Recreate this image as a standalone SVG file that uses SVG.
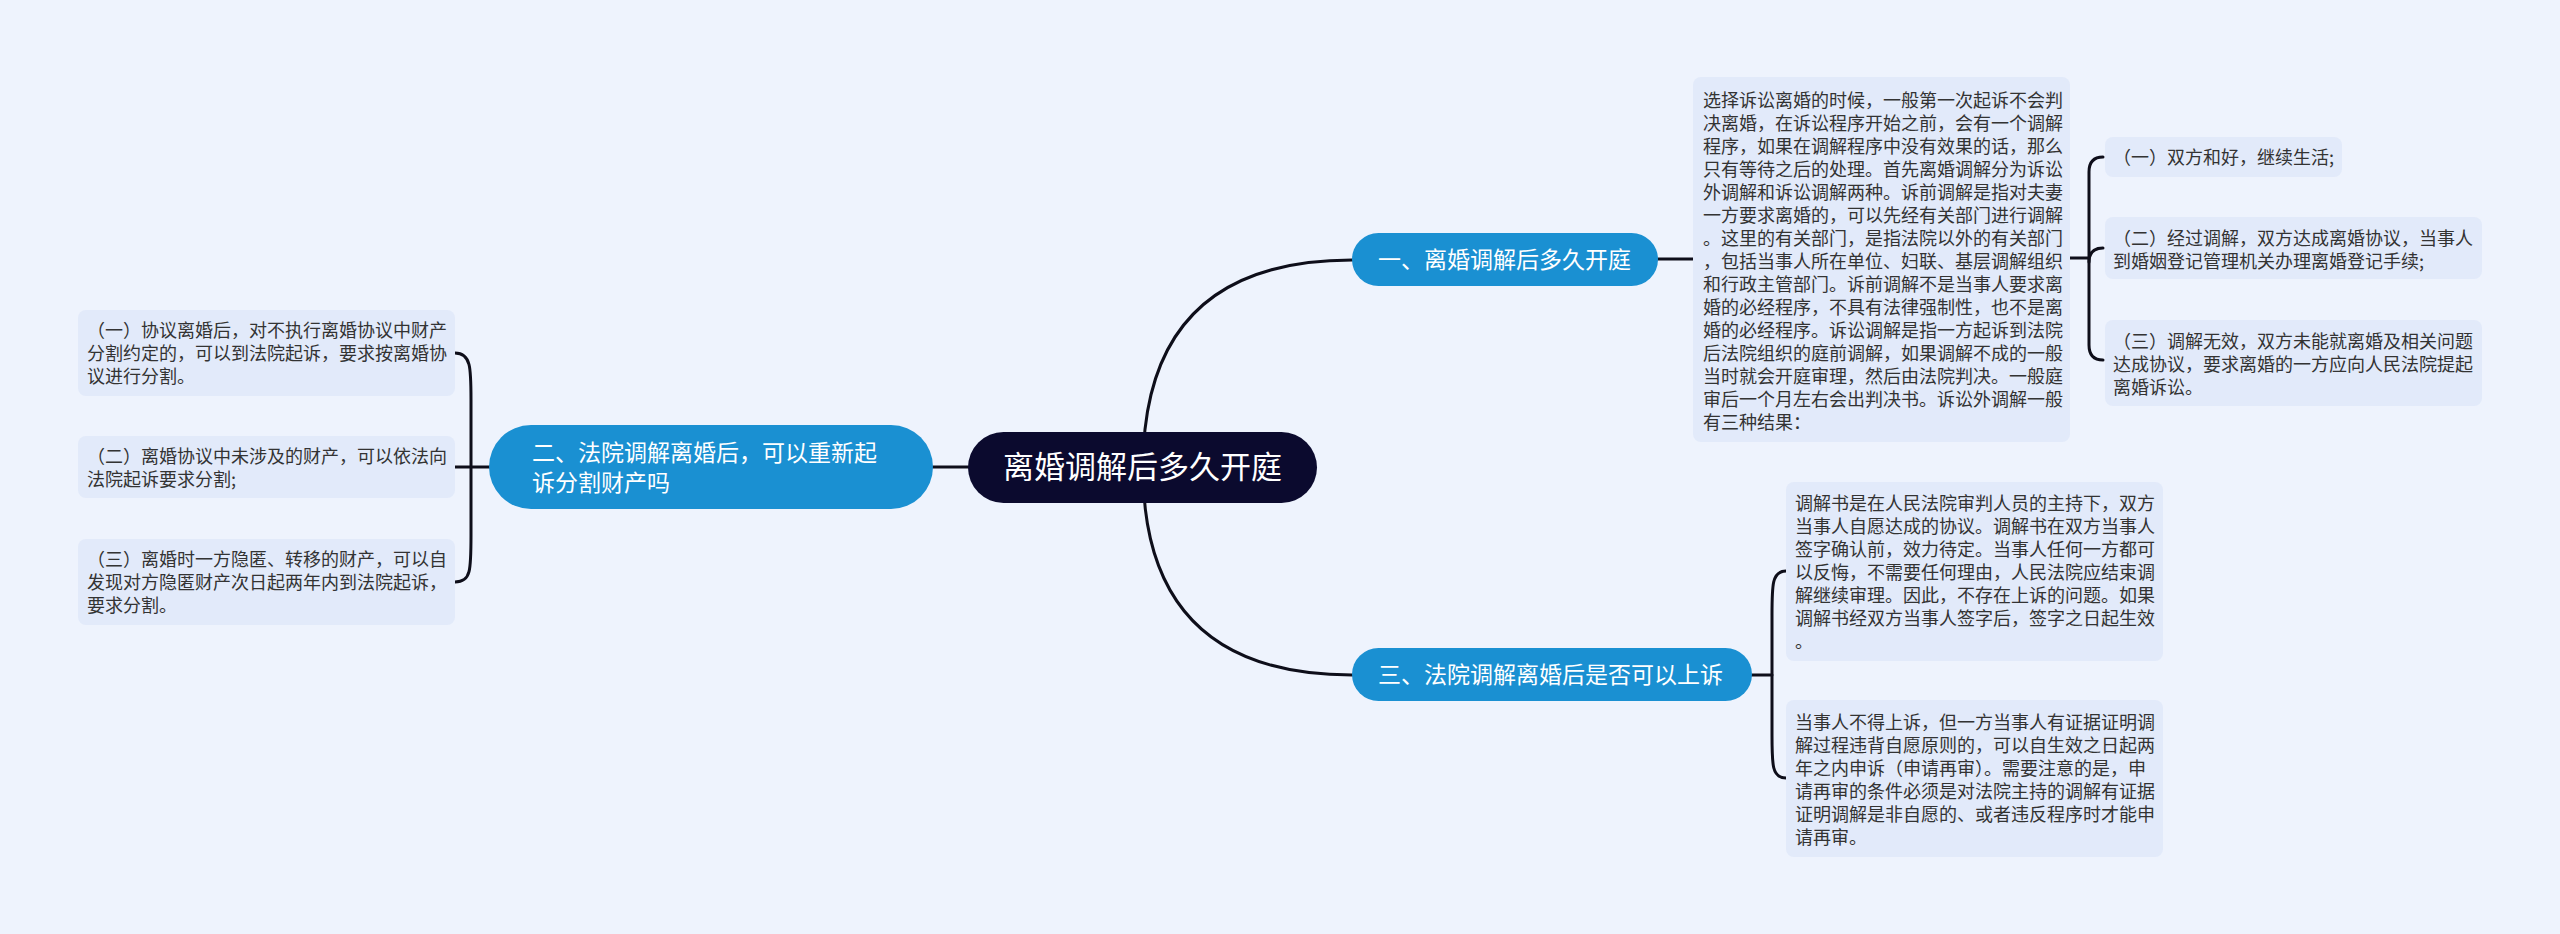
<svg xmlns="http://www.w3.org/2000/svg" width="2560" height="934" viewBox="0 0 2560 934">
<style>
.bg{fill:#EEF3FD}
.conn{fill:none;stroke:#0E0E1A;stroke-width:3;stroke-linecap:round}
.box{fill:#E2EAFA}
.t{font-family:"Noto Sans CJK SC","Noto Sans",sans-serif;font-size:18px;fill:#333333}
.br{fill:#1A90D2}
.bt{font-family:"Noto Sans CJK SC","Noto Sans",sans-serif;font-size:23px;fill:#FFFFFF}
.root{fill:#0B0A2E}
.rt{font-family:"Noto Sans CJK SC","Noto Sans",sans-serif;font-size:31px;fill:#FFFFFF}
</style>
<rect class="bg" x="0" y="0" width="2560" height="934"/>
<g id="connectors">
<path class="conn" d="M1143 468 Q1143 260 1352 260"/>
<path class="conn" d="M1143 468 Q1143 675 1352 675"/>
<path class="conn" d="M968 467 H933"/>
<path class="conn" d="M1658 259 H1693"/>
<path class="conn" d="M2070 258 H2089"/>
<path class="conn" d="M2103 157 Q2089 157 2089 172 L2089 345 Q2089 360 2103 360"/>
<path class="conn" d="M2089 262 Q2089 248 2103 248"/>
<path class="conn" d="M1752 675 H1772"/>
<path class="conn" d="M1786 571 C1772 571 1772 585 1772 615 L1772 735 C1772 765 1772 778 1786 778"/>
<path class="conn" d="M455 353 C471 353 471 368 471 400 L471 535 C471 570 471 582 455 582"/>
<path class="conn" d="M455 467 H490"/>
</g>
<g id="root">
<rect class="root" x="968" y="432" width="349" height="71" rx="35.5"/>
<text class="rt" x="1142.5" y="478" text-anchor="middle">离婚调解后多久开庭</text>
</g>
<g id="branch1">
<rect class="br" x="1352" y="233" width="306" height="53" rx="26.5"/>
<text class="bt" x="1378" y="268">一、离婚调解后多久开庭</text>
</g>
<g id="branch2">
<rect class="br" x="489" y="425" width="444" height="84" rx="42"/>
<text class="bt" x="532" y="461">二、法院调解离婚后，可以重新起</text>
<text class="bt" x="532" y="491">诉分割财产吗</text>
</g>
<g id="branch3">
<rect class="br" x="1352" y="648" width="400" height="53" rx="26.5"/>
<text class="bt" x="1378" y="683">三、法院调解离婚后是否可以上诉</text>
</g>
<g id="detail1">
<rect class="box" x="1693" y="77" width="377" height="365" rx="8"/>
<text class="t" x="1703">
<tspan x="1703" y="107">选择诉讼离婚的时候，一般第一次起诉不会判</tspan>
<tspan x="1703" y="130">决离婚，在诉讼程序开始之前，会有一个调解</tspan>
<tspan x="1703" y="153">程序，如果在调解程序中没有效果的话，那么</tspan>
<tspan x="1703" y="176">只有等待之后的处理。首先离婚调解分为诉讼</tspan>
<tspan x="1703" y="199">外调解和诉讼调解两种。诉前调解是指对夫妻</tspan>
<tspan x="1703" y="222">一方要求离婚的，可以先经有关部门进行调解</tspan>
<tspan x="1703" y="245">。这里的有关部门，是指法院以外的有关部门</tspan>
<tspan x="1703" y="268">，包括当事人所在单位、妇联、基层调解组织</tspan>
<tspan x="1703" y="291">和行政主管部门。诉前调解不是当事人要求离</tspan>
<tspan x="1703" y="314">婚的必经程序，不具有法律强制性，也不是离</tspan>
<tspan x="1703" y="337">婚的必经程序。诉讼调解是指一方起诉到法院</tspan>
<tspan x="1703" y="360">后法院组织的庭前调解，如果调解不成的一般</tspan>
<tspan x="1703" y="383">当时就会开庭审理，然后由法院判决。一般庭</tspan>
<tspan x="1703" y="406">审后一个月左右会出判决书。诉讼外调解一般</tspan>
<tspan x="1703" y="429">有三种结果：</tspan>
</text>
</g>
<g id="r1">
<rect class="box" x="2105" y="137" width="237" height="40" rx="8"/>
<text class="t" x="2113" y="164">（一）双方和好，继续生活;</text>
</g>
<g id="r2">
<rect class="box" x="2105" y="217" width="377" height="62" rx="8"/>
<text class="t"><tspan x="2113" y="245">（二）经过调解，双方达成离婚协议，当事人</tspan><tspan x="2113" y="268">到婚姻登记管理机关办理离婚登记手续;</tspan></text>
</g>
<g id="r3">
<rect class="box" x="2105" y="320" width="377" height="86" rx="8"/>
<text class="t"><tspan x="2113" y="348">（三）调解无效，双方未能就离婚及相关问题</tspan><tspan x="2113" y="371">达成协议，要求离婚的一方应向人民法院提起</tspan><tspan x="2113" y="394">离婚诉讼。</tspan></text>
</g>
<g id="l1">
<rect class="box" x="78" y="310" width="377" height="86" rx="8"/>
<text class="t"><tspan x="87" y="337">（一）协议离婚后，对不执行离婚协议中财产</tspan><tspan x="87" y="360">分割约定的，可以到法院起诉，要求按离婚协</tspan><tspan x="87" y="383">议进行分割。</tspan></text>
</g>
<g id="l2">
<rect class="box" x="78" y="436" width="377" height="62" rx="8"/>
<text class="t"><tspan x="87" y="463">（二）离婚协议中未涉及的财产，可以依法向</tspan><tspan x="87" y="486">法院起诉要求分割;</tspan></text>
</g>
<g id="l3">
<rect class="box" x="78" y="539" width="377" height="86" rx="8"/>
<text class="t"><tspan x="87" y="566">（三）离婚时一方隐匿、转移的财产，可以自</tspan><tspan x="87" y="589">发现对方隐匿财产次日起两年内到法院起诉，</tspan><tspan x="87" y="612">要求分割。</tspan></text>
</g>
<g id="a1">
<rect class="box" x="1786" y="482" width="377" height="179" rx="8"/>
<text class="t"><tspan x="1795" y="510">调解书是在人民法院审判人员的主持下，双方</tspan><tspan x="1795" y="533">当事人自愿达成的协议。调解书在双方当事人</tspan><tspan x="1795" y="556">签字确认前，效力待定。当事人任何一方都可</tspan><tspan x="1795" y="579">以反悔，不需要任何理由，人民法院应结束调</tspan><tspan x="1795" y="602">解继续审理。因此，不存在上诉的问题。如果</tspan><tspan x="1795" y="625">调解书经双方当事人签字后，签字之日起生效</tspan><tspan x="1795" y="648">。</tspan></text>
</g>
<g id="a2">
<rect class="box" x="1786" y="700" width="377" height="157" rx="8"/>
<text class="t"><tspan x="1795" y="729">当事人不得上诉，但一方当事人有证据证明调</tspan><tspan x="1795" y="752">解过程违背自愿原则的，可以自生效之日起两</tspan><tspan x="1795" y="775">年之内申诉（申请再审）。需要注意的是，申</tspan><tspan x="1795" y="798">请再审的条件必须是对法院主持的调解有证据</tspan><tspan x="1795" y="821">证明调解是非自愿的、或者违反程序时才能申</tspan><tspan x="1795" y="844">请再审。</tspan></text>
</g>
</svg>
